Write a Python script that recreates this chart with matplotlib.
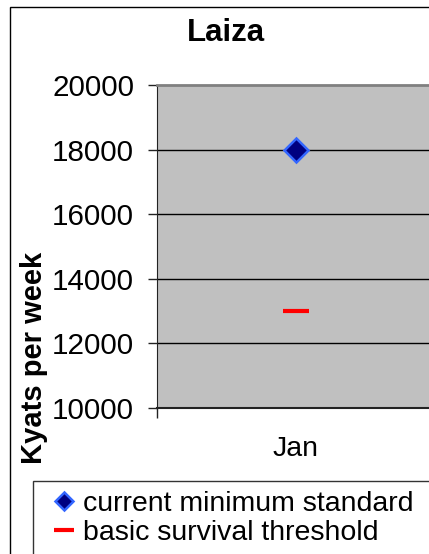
import matplotlib
matplotlib.use("Agg")
import matplotlib.pyplot as plt
from matplotlib.patches import Rectangle

plt.rcParams['font.family'] = ['Liberation Sans', 'DejaVu Sans']

title = "Laiza"
categories = ["Jan"]
current_minimum = [18000]
survival_threshold = [13000]
yticks = [10000, 12000, 14000, 16000, 18000, 20000]
ylabel = "Kyats per week"
series_names = ["current minimum standard", "basic survival threshold"]

W, H = 429, 554
fig = plt.figure(figsize=(W / 100, H / 100), dpi=100)

# outer chart border (extends beyond the visible area)
fig.patches.append(Rectangle((10 / W, -0.1), 1.2, 1 - 7 / H + 0.1,
                             transform=fig.transFigure, fill=False,
                             edgecolor='black', linewidth=1.0))
# legend frame (extends beyond the visible area)
fig.patches.append(Rectangle((33 / W, -0.1), 1.2, 1 - 481 / H + 0.1,
                             transform=fig.transFigure, fill=False,
                             edgecolor='#333333', linewidth=1.0))

left, right, top, bottom = 157 / W, 435 / W, 1 - 85 / H, 1 - 408 / H
ax = fig.add_axes([left, bottom, right - left, top - bottom])
ax.set_facecolor('#C0C0C0')

x = list(range(len(categories)))
ax.plot(x, current_minimum, linestyle='none', marker='D', markersize=12,
        markerfacecolor='#000080', markeredgecolor='#3366FF',
        markeredgewidth=1.8, label=series_names[0], zorder=5)
ax.plot(x, survival_threshold, linestyle='none', marker='_', markersize=18.5,
        markeredgewidth=3.0, color='#FF0000', label=series_names[1], zorder=5)

ax.set_xlim(-0.5, len(categories) - 0.5)
ax.set_ylim(yticks[0], yticks[-1])
ax.set_yticks(yticks)
ax.set_yticklabels([str(v) for v in yticks], fontsize=21.3)
for v in yticks[1:-1]:
    ax.axhline(v, color='black', linewidth=1.0, zorder=1)

ax.set_xticks([-0.5, len(categories) - 0.5], minor=False)
ax.set_xticklabels(['', ''])
ax.tick_params(axis='x', which='major', direction='out', length=7, width=1, color='#222222')
ax.set_xticks(x, minor=True)
ax.set_xticklabels(categories, minor=True, fontsize=20.5)
ax.tick_params(axis='x', which='minor', length=0, pad=20)
ax.tick_params(axis='y', direction='out', length=6.5, width=1, pad=10, color='#222222')

ax.spines['top'].set_color('#808080')
ax.spines['top'].set_linewidth(2)
ax.spines['right'].set_visible(False)
ax.spines['left'].set_color('#222222')
ax.spines['bottom'].set_color('#222222')
ax.spines['bottom'].set_linewidth(1.5)

fig.text(226 / W, 1 - 33 / H, title, fontsize=22.5, fontweight='bold',
         ha='center', va='center')
fig.text(34 / W, 1 - 358 / H, ylabel, fontsize=21, fontweight='bold',
         rotation=90, ha='center', va='center')

leg = fig.legend(loc='upper left', bbox_to_anchor=(53 / W, 1 - 491 / H),
                 fontsize=20.5, frameon=False, handlelength=0.75,
                 handletextpad=0.3, borderpad=0, labelspacing=0.1,
                 borderaxespad=0, markerscale=0.8)

fig.savefig('out.png', dpi=100)
